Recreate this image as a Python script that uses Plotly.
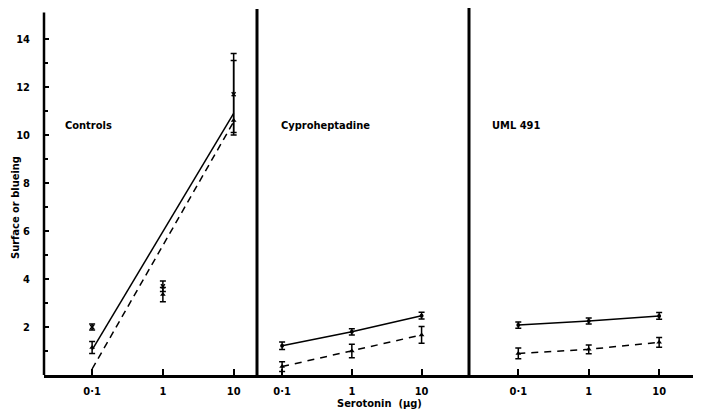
import plotly.graph_objects as go

# ---- data ----
doses = [0.1, 1, 10]
dose_labels = ["0·1", "1", "10"]
panel_names = ["Controls", "Cyproheptadine", "UML 491"]

# Controls: observed points
ctrl_solid_y = [2.0, 3.7, 11.7]
ctrl_solid_err = [0.12, 0.22, 1.7]
ctrl_dash_y = [1.15, 3.35, 10.6]
ctrl_dash_err_plus = [0.25, 0.3, 2.5]
ctrl_dash_err_minus = [0.25, 0.3, 0.5]
# Controls: fitted regression lines (at 0.1 and 10 µg)
fit_doses = [0.1, 10]
ctrl_fit_solid = [1.05, 10.9]
ctrl_fit_dash = [0.25, 10.55]

# Cyproheptadine
cyp_solid_y = [1.22, 1.8, 2.47]
cyp_solid_err = [0.16, 0.13, 0.14]
cyp_dash_y = [0.35, 1.0, 1.67]
cyp_dash_err = [0.2, 0.28, 0.35]

# UML 491
uml_solid_y = [2.08, 2.25, 2.46]
uml_solid_err = [0.13, 0.12, 0.14]
uml_dash_y = [0.9, 1.07, 1.36]
uml_dash_err = [0.22, 0.18, 0.2]

y_ticks = [2, 4, 6, 8, 10, 12, 14]
y_minor = [1, 3, 5, 7, 9, 11, 13]

# ---- style / geometry (page pixels; the page body adds an 8px offset) ----
FONT = "DejaVu Sans Condensed, Liberation Sans Narrow, DejaVu Sans, sans-serif"
BLACK = "black"
OFF = 8
W, H = 701 - OFF, 418 - OFF
PLOT_L, PLOT_R, PLOT_T, PLOT_B = 44, 700, 8, 375   # page px
ML = PLOT_L - OFF
MR = W - (PLOT_R - OFF)
MT = PLOT_T - OFF
MB = H - (PLOT_B - OFF)
plot_w = W - ML - MR
plot_h = H - MT - MB

def px2paper(px):
    return (px - PLOT_L) / plot_w
def py2paper(py):
    return (PLOT_B - py) / plot_h

d1 = px2paper(257)
d2 = px2paper(469)
domains = [[0, d1], [d1, d2], [d2, 1]]
xranges = [[-1.68, 1.33], [-1.36, 1.68], [-1.70, 1.58]]
YMAX = (PLOT_B - PLOT_T) / 24.0

fig = go.Figure()

def err(arr, arrminus=None):
    e = dict(type="data", array=arr, color=BLACK, thickness=1.5, width=3, visible=True)
    if arrminus is not None:
        e["arrayminus"] = arrminus
        e["symmetric"] = False
    return e

# Controls panel
fig.add_trace(go.Scatter(x=fit_doses, y=ctrl_fit_solid, mode="lines",
                         line=dict(color=BLACK, width=1.5), xaxis="x", yaxis="y"))
fig.add_trace(go.Scatter(x=fit_doses, y=ctrl_fit_dash, mode="lines",
                         line=dict(color=BLACK, width=1.5, dash="7px,5px"), xaxis="x", yaxis="y"))
fig.add_trace(go.Scatter(x=doses, y=ctrl_solid_y, mode="markers",
                         marker=dict(color=BLACK, size=4, symbol="x-thin", line=dict(width=1.5, color=BLACK)),
                         error_y=err(ctrl_solid_err), xaxis="x", yaxis="y"))
fig.add_trace(go.Scatter(x=doses, y=ctrl_dash_y, mode="markers",
                         marker=dict(color=BLACK, size=5, symbol="triangle-up"),
                         error_y=err(ctrl_dash_err_plus, ctrl_dash_err_minus), xaxis="x", yaxis="y"))

# Cyproheptadine panel
fig.add_trace(go.Scatter(x=doses, y=cyp_solid_y, mode="lines+markers",
                         line=dict(color=BLACK, width=1.5),
                         marker=dict(color=BLACK, size=4),
                         error_y=err(cyp_solid_err), xaxis="x2", yaxis="y2"))
fig.add_trace(go.Scatter(x=doses, y=cyp_dash_y, mode="lines+markers",
                         line=dict(color=BLACK, width=1.5, dash="7px,6px"),
                         marker=dict(color=BLACK, size=5, symbol="triangle-up"),
                         error_y=err(cyp_dash_err), xaxis="x2", yaxis="y2"))

# UML 491 panel
fig.add_trace(go.Scatter(x=doses, y=uml_solid_y, mode="lines+markers",
                         line=dict(color=BLACK, width=1.5),
                         marker=dict(color=BLACK, size=4),
                         error_y=err(uml_solid_err), xaxis="x3", yaxis="y3"))
fig.add_trace(go.Scatter(x=doses, y=uml_dash_y, mode="lines+markers",
                         line=dict(color=BLACK, width=1.5, dash="7px,6px"),
                         marker=dict(color=BLACK, size=5, symbol="triangle-up"),
                         error_y=err(uml_dash_err), xaxis="x3", yaxis="y3"))

tickfont = dict(family=FONT, size=11, color=BLACK, weight="bold")
textfont = dict(family=FONT, size=11, color=BLACK, weight="bold")

layout = dict(
    width=W, height=H,
    margin=dict(l=ML, r=MR, t=MT, b=MB, autoexpand=False),
    paper_bgcolor="white", plot_bgcolor="white",
    showlegend=False,
)

for i in range(3):
    xa = "xaxis" if i == 0 else f"xaxis{i+1}"
    ya = "yaxis" if i == 0 else f"yaxis{i+1}"
    layout[xa] = dict(
        domain=domains[i], type="log", range=xranges[i],
        tickvals=doses, ticktext=dose_labels, ticks="inside", ticklen=6,
        tickwidth=2, tickcolor=BLACK, showline=True, linewidth=2.5, linecolor=BLACK,
        showgrid=False, zeroline=False, tickfont=tickfont, ticklabelstandoff=4,
        automargin=False,
        anchor="y" if i == 0 else f"y{i+1}",
    )
    if i == 0:
        layout[ya] = dict(
            range=[0, YMAX], tickvals=y_ticks, ticks="inside", ticklen=5, tickwidth=2,
            tickcolor=BLACK, showline=False, showgrid=False, zeroline=False,
            tickfont=tickfont, ticklabelstandoff=13, automargin=False,
            minor=dict(tickvals=y_minor, ticks="inside", ticklen=4,
                       tickwidth=1.5, tickcolor=BLACK),
            anchor="x",
        )
    else:
        layout[ya] = dict(matches="y", range=[0, YMAX], visible=False,
                          anchor=f"x{i+1}")

fig.update_layout(**layout)

# axis / divider lines
fig.add_shape(type="line", xref="paper", yref="y", x0=0, x1=0, y0=0, y1=15.1,
              line=dict(color=BLACK, width=2.5))
fig.add_shape(type="line", xref="paper", yref="paper", x0=d1, x1=d1, y0=0, y1=py2paper(9),
              line=dict(color=BLACK, width=3))
fig.add_shape(type="line", xref="paper", yref="paper", x0=d2, x1=d2, y0=0, y1=1,
              line=dict(color=BLACK, width=3))

# panel labels
label_px = [63, 279, 490]
for name, lx in zip(panel_names, label_px):
    fig.add_annotation(text=name, xref="paper", yref="paper", x=px2paper(lx),
                       y=py2paper(126), xanchor="left", yanchor="middle",
                       showarrow=False, font=textfont)

# y-axis title
fig.add_annotation(text="Surface or blueing", xref="paper", yref="paper",
                   x=px2paper(15), y=py2paper(208), xanchor="center", yanchor="middle",
                   textangle=-90, showarrow=False, font=textfont)

# x-axis title
fig.add_annotation(text="Serotonin  (µg)", xref="paper", yref="paper",
                   x=px2paper(335), y=py2paper(403),
                   xanchor="left", yanchor="middle", showarrow=False, font=textfont)

fig.write_html("out.html")
